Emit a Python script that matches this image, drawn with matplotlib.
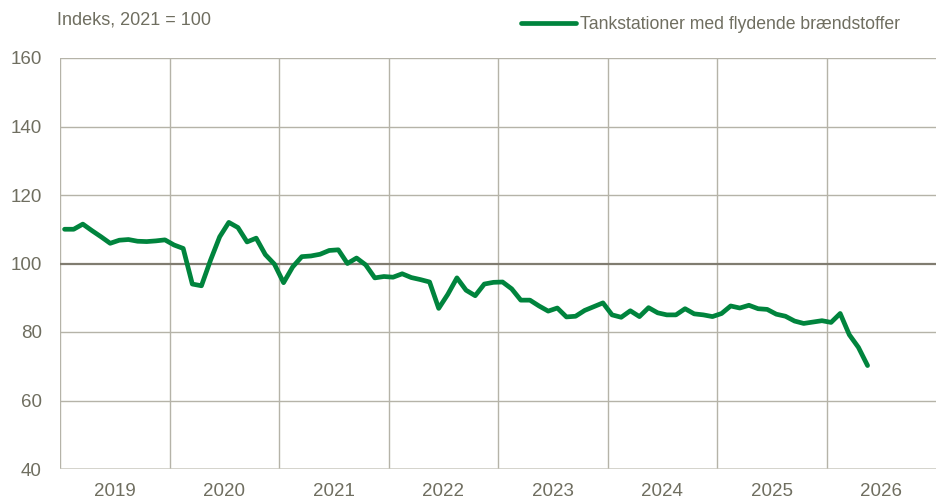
import numpy as np
import matplotlib
matplotlib.use("Agg")
import matplotlib.pyplot as plt

# monthly index values, Jan 2019 - May 2026 (2021 = 100)
v2019 = [110.0, 110.0, 111.5, 109.6, 107.8, 105.9, 106.8, 107.0, 106.5, 106.4, 106.6, 106.9]
v2020 = [105.4, 104.4, 94.0, 93.5, 101.0, 107.8, 112.0, 110.5, 106.3, 107.4, 102.6, 99.8]
v2021 = [94.4, 99.0, 102.0, 102.2, 102.7, 103.8, 104.0, 100.0, 101.6, 99.6, 95.8, 96.2]
v2022 = [96.0, 97.0, 95.9, 95.3, 94.6, 86.9, 91.0, 95.8, 92.2, 90.6, 94.0, 94.5]
v2023 = [94.6, 92.6, 89.3, 89.3, 87.6, 86.1, 87.0, 84.4, 84.6, 86.3, 87.4, 88.5]
v2024 = [85.0, 84.3, 86.2, 84.5, 87.1, 85.6, 85.0, 85.0, 86.8, 85.3, 85.0, 84.5]
v2025 = [85.4, 87.6, 87.0, 87.8, 86.8, 86.6, 85.2, 84.6, 83.2, 82.5, 82.9, 83.3]
v2026 = [82.8, 85.4, 79.2, 75.5, 70.2]

values = v2019 + v2020 + v2021 + v2022 + v2023 + v2024 + v2025 + v2026
years = ["2019", "2020", "2021", "2022", "2023", "2024", "2025", "2026"]
yticks = [40, 60, 80, 100, 120, 140, 160]
series_name = "Tankstationer med flydende brændstoffer"

green = "#00843d"
grid_c = "#b5b3a8"
text_c = "#6f6e60"

plt.rcParams["font.family"] = ["Liberation Sans Narrow", "Liberation Sans", "DejaVu Sans"]

fig = plt.figure(figsize=(9.36, 5.03), dpi=100)
ax = fig.add_axes([60 / 936, 34 / 503, 876 / 936, 411 / 503])

x = np.arange(len(values)) + 0.5
ax.plot(x, values, color=green, lw=3.4, solid_joinstyle="round", solid_capstyle="round",
        zorder=3, label=series_name)

ax.set_xlim(0, 12 * len(years))
ax.set_ylim(40, 160)

# grid: horizontal at each tick, vertical at year boundaries
for yv in yticks:
    if yv == 100:
        ax.axhline(yv, color="#807c70", lw=1.6, zorder=2)
    elif yv == 40:
        ax.axhline(yv, color="#c8c6bd", lw=1.8, zorder=2)
    else:
        ax.axhline(yv, color=grid_c, lw=1.0, zorder=1)
for k in range(len(years)):
    ax.axvline(12 * k, color=grid_c, lw=1.0, zorder=1)

for s in ax.spines.values():
    s.set_visible(False)

ax.set_yticks(yticks)
ax.set_yticklabels([str(t) for t in yticks])
ax.set_xticks([12 * k + 6 for k in range(len(years))])
ax.set_xticklabels(years)
ax.tick_params(axis="both", length=0, labelsize=13.5, labelcolor=text_c)
ax.tick_params(axis="y", pad=13)
ax.tick_params(axis="x", pad=10)

fig.text(57 / 936, 1 - 20 / 503, "Indeks, 2021 = 100", fontsize=13, color=text_c,
         ha="left", va="center")

leg = ax.legend(loc="upper left", bbox_to_anchor=(521 / 936, 1 - 16 / 503),
                bbox_transform=fig.transFigure, frameon=False, fontsize=12.7,
                handlelength=3.1, handletextpad=0.25, borderaxespad=0,
                borderpad=0)
for t in leg.get_texts():
    t.set_color(text_c)

fig.savefig("out.png", dpi=100)
